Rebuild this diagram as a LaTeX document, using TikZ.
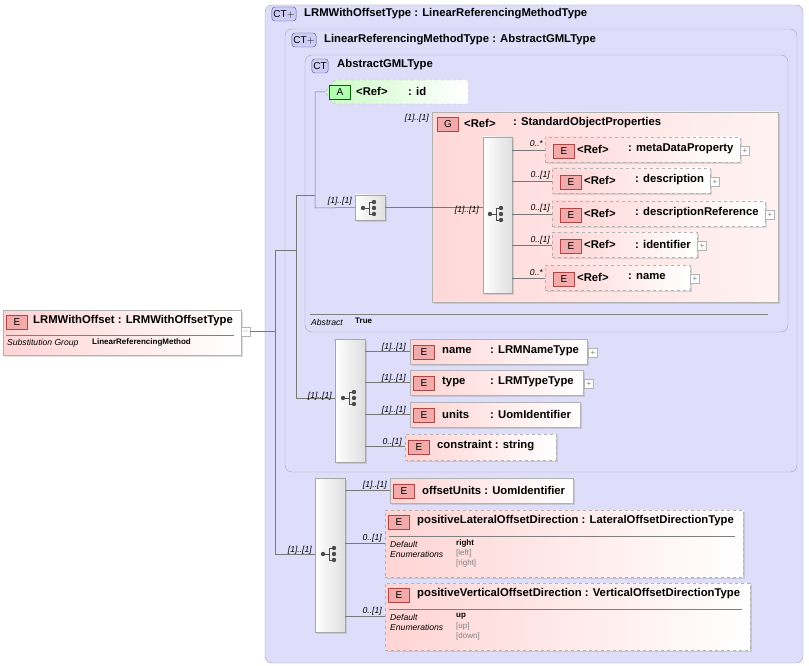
\documentclass[tikz,border=0pt]{standalone}
\usepackage{fontspec}
\setmainfont{Liberation Sans}
\usetikzlibrary{fit,shadows}
\definecolor{lav}{RGB}{222,222,250}
\definecolor{lavb}{RGB}{160,160,185}
\definecolor{pinkL}{RGB}{255,212,212}
\definecolor{greenL}{RGB}{205,250,200}
\definecolor{badgeE}{RGB}{242,170,170}
\definecolor{badgeEb}{RGB}{170,70,70}
\definecolor{badgeC}{RGB}{205,205,245}
\definecolor{badgeCb}{RGB}{80,80,150}
\definecolor{ln}{RGB}{120,120,120}
\newcommand\hf{\fontsize{11.3}{13}\selectfont\bfseries}
\newcommand\mf{\fontsize{8.6}{10}\selectfont\itshape}
\newcommand\smf{\fontsize{8}{9}\selectfont}
\tikzset{
 ctbox/.style={draw=lavb, fill=lav, rounded corners=7pt, inner sep=0pt},
 ebox/.style={draw=gray!60, left color=pinkL, right color=white, inner sep=0pt, drop shadow={opacity=0.25,shadow xshift=2pt,shadow yshift=-2pt}},
 edash/.style={ebox, dashed},
 gbox/.style={draw=gray!60, left color=pinkL!90, right color=pinkL!30, inner sep=0pt, drop shadow={opacity=0.25,shadow xshift=2pt,shadow yshift=-2pt}},
 abox/.style={draw=gray!60, dashed, left color=greenL, right color=white, inner sep=0pt},
 seq/.style={draw=gray!70, left color=white, right color=gray!25, inner sep=0pt, drop shadow={opacity=0.25,shadow xshift=2pt,shadow yshift=-2pt}},
 bE/.style={draw=badgeEb, fill=badgeE, minimum width=21pt, minimum height=14pt, inner sep=0pt, font=\fontsize{10}{11}\selectfont},
 bC/.style={draw=badgeCb, fill=badgeC, rounded corners=3pt, minimum height=14pt, inner sep=1.5pt, font=\fontsize{10}{11}\selectfont},
 tx/.style={anchor=west, inner sep=0pt, font=\hf},
 ml/.style={anchor=base east, inner sep=0pt, font=\mf},
 con/.style={draw=ln, line width=0.5pt},
 pl/.style={draw=gray!60, fill=white, minimum size=9pt, inner sep=0pt, font=\fontsize{8}{8}\selectfont, text=gray},
}
\newcommand\seqicon[2]{%
 \draw[black!70,line width=0.8pt] (#1-7,#2) -- (#1-1,#2) (#1-1,#2-6) -- (#1-1,#2+6) (#1-1,#2-6) -- (#1+4,#2-6) (#1-1,#2+6) -- (#1+4,#2+6);
 \fill[black!70] (#1-7,#2) circle (2.2pt) (#1+4,#2-6) circle (2.2pt) (#1+4,#2) circle (2.2pt) (#1+4,#2+6) circle (2.2pt);}
\begin{document}
\begin{tikzpicture}[x=1pt,y=-1pt]
\useasboundingbox (0,0) rectangle (809,666);
% containers
\node[ctbox, fit={(265,5) (803,663)}] (ct1) {};
\node[bC] (b1) at (284,14) {CT$+$};
\node[tx] (t1) at (304,14) {LRMWithOffsetType : LinearReferencingMethodType};
\node[ctbox, fit={(285,29) (797,472)}] (ct2) {};
\node[bC] (b2) at (304,40) {CT$+$};
\node[tx] (t2) at (324,40) {LinearReferencingMethodType : AbstractGMLType};
\node[ctbox, fit={(305,55) (788,332)}] (ct3) {};
\node[bC] (b3) at (320,66) {CT};
\node[tx] (t3) at (337,65) {AbstractGMLType};
\draw[gray] (310,314) -- (768,314);
\node[anchor=west,inner sep=0,font=\mf] (abs) at (311,322) {Abstract};
\node[anchor=west,inner sep=0,font=\smf\bfseries] (abv) at (355,321) {True};
% root element
\node[ebox, fit={(3,310) (241,355)}] (root) {};
\node[bE] (rb) at (17,322) {E};
\node[tx] (rt) at (33,321) {LRMWithOffset : LRMWithOffsetType};
\draw[gray] (6,335) -- (234,335);
\node[anchor=west,inner sep=0,font=\mf] (sg) at (7,343) {Substitution Group};
\node[anchor=west,inner sep=0,font=\smf\bfseries] (sgv) at (92,342) {LinearReferencingMethod};
\node[pl] (rm) at (245.5,331.5) {$-$};
% attribute id
\path[abox] (468,80) -- (468,104) -- (335,104) -- (325,92) -- (335,80) -- cycle;
\node[draw=green!40!black, fill=green!30, minimum width=21pt, minimum height=14pt, inner sep=0, font=\fontsize{10}{11}\selectfont] (ab) at (340,92) {A};
\node[tx] (at) at (356,91) {<Ref>};
\node[tx] (at2) at (408,91) {: id};
% small seq
\node[seq, fit={(355,195) (385,220)}] (s1) {};
\seqicon{370}{208}
% G box
\node[gbox, fit={(432,112) (778,302)}] (g) {};
\node[bE] (gb) at (448,124) {G};
\node[tx] (gt) at (464,123) {<Ref>};
\node[tx] (gt2) at (513,123) {: StandardObjectProperties};
\node[seq, fit={(483,137) (512,293)}] (s2) {};
\seqicon{497}{214}
% G elements
\foreach \n/\xa/\ya/\xb/\txt/\my in {
 m/545/137/740/metaDataProperty/0..*,
 d/552/168/710/description/0..[1],
 r/552/201/765/descriptionReference/0..[1],
 i/552/232/697/identifier/0..[1],
 nm/545/265/690/name/0..*}{
 \node[edash, fit={(\xa,\ya) (\xb,\ya+25)}] (\n) {};
 \node[bE] (\n b) at (\xa+19,\ya+14) {E};
 \node[tx] (\n t) at (\xa+32,\ya+12) {<Ref>};
 \node[tx] (\n u) at (\xa+83,\ya+12) {: \txt};
 \node[pl] (\n p) at (\xb+5,\ya+14) {+};
 \draw[con] (s2.east |- 0,\ya+13) -- (\n.west |- 0,\ya+13);
 \node[ml] at (\xa-2,\ya+10) {\my};
}
\draw[con] (s1.east) -- (s2.west |- s1.east);
\node[ml] at (479,212) {[1]..[1]};
\node[ml] at (429,121) {[1]..[1]};
\draw[con] (325,92) -- (315,92) -- (315,208) -- (s1.west);
\node[ml] at (352,204) {[1]..[1]};
% middle seq
\node[seq, fit={(335,339) (365,462)}] (s3) {};
\seqicon{350}{398}
\foreach \n/\xa/\ya/\xb/\txt/\tt/\st/\my/\pp in {
 e1/410/339/587/name/{: LRMNameType}/ebox/[1]..[1]/1,
 e2/410/370/583/type/{: LRMTypeType}/ebox/[1]..[1]/1,
 e3/410/402/580/units/{: UomIdentifier}/ebox/[1]..[1]/0}{
 \node[\st, fit={(\xa,\ya) (\xb,\ya+25)}] (\n) {};
 \node[bE] (\n b) at (\xa+14,\ya+13) {E};
 \node[tx] (\n t) at (\xa+32,\ya+12) {\txt};
 \node[tx] (\n u) at (\xa+80,\ya+12) {\tt};
 \ifnum\pp=1 \node[pl] at (\xb+6,\ya+14) {+};\fi
 \draw[con] (s3.east |- 0,\ya+12) -- (\n.west |- 0,\ya+12);
 \node[ml] at (406,\ya+10) {\my};
}
\node[edash, fit={(405,434) (556,460)}] (e4) {};
\node[bE] (e4b) at (419,447) {E};
\node[tx] (e4t) at (437,446) {constraint : string};
\draw[con] (s3.east |- 0,446) -- (e4.west |- 0,446);
\node[ml] at (402,444) {0..[1]};
\draw[con] (296,195) -- (315,195);
\draw[con] (296,195) -- (296,398) -- (s3.west |- 0,398);
\node[ml] at (332,398) {[1]..[1]};
% bottom seq
\node[seq, fit={(315,478) (345,632)}] (s4) {};
\seqicon{330}{554}
\node[ebox, fit={(390,478) (573,503)}] (o1) {};
\node[bE] (o1b) at (404,491) {E};
\node[tx] (o1t) at (422,490) {offsetUnits : UomIdentifier};
\draw[con] (s4.east |- 0,490) -- (o1.west |- 0,490);
\node[ml] at (387,487) {[1]..[1]};
\foreach \n/\ya/\xb/\txt/\dv/\ea/\eb in {
 o2/510/743/{positiveLateralOffsetDirection : LateralOffsetDirectionType}/right/left/right,
 o3/583/750/{positiveVerticalOffsetDirection : VerticalOffsetDirectionType}/up/up/down}{
 \node[edash, fit={(385,\ya) (\xb,\ya+67)}] (\n) {};
 \node[bE] (\n b) at (399,\ya+12) {E};
 \node[tx] (\n t) at (417,\ya+11) {\txt};
 \draw[gray] (389,\ya+26) -- (\xb-8,\ya+26);
 \node[anchor=west,inner sep=0,font=\mf] at (390,\ya+34) {Default};
 \node[anchor=west,inner sep=0,font=\mf] at (390,\ya+44) {Enumerations};
 \node[anchor=west,inner sep=0,font=\smf\bfseries] at (456,\ya+33) {\dv};
 \node[anchor=west,inner sep=0,font=\smf,text=gray] at (456,\ya+43) {[\ea]};
 \node[anchor=west,inner sep=0,font=\smf,text=gray] at (456,\ya+53) {[\eb]};
 \draw[con] (s4.east |- 0,\ya+33) -- (\n.west |- 0,\ya+33);
 \node[ml] at (382,\ya+30) {0..[1]};
}
% root connectors
\draw[con] (rm.east) -- (275,331.5);
\draw[con] (275,250) -- (296,250);
\draw[con] (275,250) -- (275,554) -- (s4.west |- 0,554);
\node[ml] at (312,552) {[1]..[1]};
\end{tikzpicture}
\end{document}
